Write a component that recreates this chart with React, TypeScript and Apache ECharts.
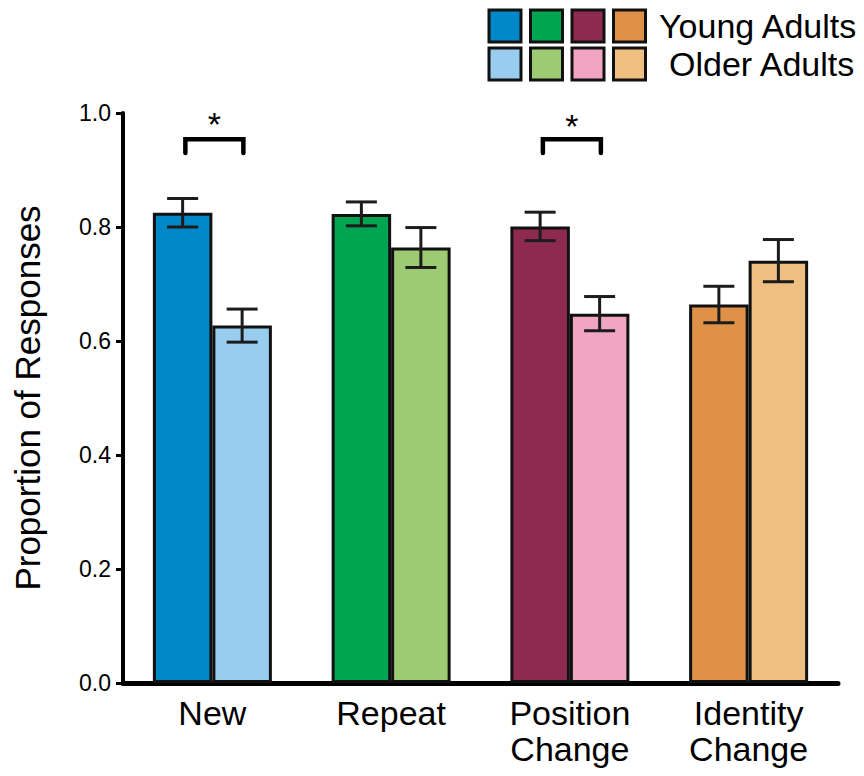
import React, { useEffect, useRef } from 'react';
import * as echarts from 'echarts';

const categories = ['New', 'Repeat', 'Position\nChange', 'Identity\nChange'];
const youngValues = [0.825, 0.823, 0.801, 0.664];
const youngErrors = [0.025, 0.021, 0.025, 0.032];
const olderValues = [0.627, 0.764, 0.648, 0.741];
const olderErrors = [0.029, 0.035, 0.030, 0.037];
const youngColors = ['#0087c8', '#00a551', '#8e2a4f', '#df9148'];
const olderColors = ['#98cdef', '#9dcb73', '#f0a5c3', '#efbf81'];
const groupLabels = ['Young Adults', 'Older Adults'];
const yTicks = [0, 0.2, 0.4, 0.6, 0.8, 1.0];
const sigCategories = [0, 2];
const sigBracketTop = [0.954, 0.954];
const sigBracketEnd = [0.93, 0.93];
const sigStar = [0.981, 0.977];

const FONT = "'Liberation Sans', Arial, Helvetica, sans-serif";
const BAR_W = 59.5;

function errorSeries(values: number[], errors: number[], side: number) {
  return {
    type: 'custom',
    silent: true,
    z: 10,
    data: values.map((v, i) => [i, v, errors[i]]),
    renderItem: (params: any, api: any) => {
      const i = api.value(0);
      const v = api.value(1);
      const e = api.value(2);
      const hi = api.coord([i, v + e]);
      const lo = api.coord([i, v - e]);
      const x = hi[0] + (side * BAR_W) / 2;
      const cap = 15.5;
      const style = { stroke: '#1c1c1c', lineWidth: 3 };
      return {
        type: 'group',
        children: [
          { type: 'line', shape: { x1: x, y1: hi[1], x2: x, y2: lo[1] }, style },
          { type: 'line', shape: { x1: x - cap, y1: hi[1], x2: x + cap, y2: hi[1] }, style },
          { type: 'line', shape: { x1: x - cap, y1: lo[1], x2: x + cap, y2: lo[1] }, style },
        ],
      };
    },
  };
}

export default function App() {
  const ref = useRef<HTMLDivElement>(null);
  useEffect(() => {
    document.body.style.margin = '0';
    const chart = echarts.init(ref.current!, null, { renderer: 'svg' });

    const legendChildren: any[] = [];
    const sqX0 = 489;
    const sqStep = 41.5;
    const rowY = [10, 48];
    [youngColors, olderColors].forEach((cols, r) => {
      cols.forEach((c, k) => {
        legendChildren.push({
          type: 'rect',
          shape: { x: sqX0 + k * sqStep, y: rowY[r], width: 32, height: 32 },
          style: { fill: c, stroke: '#111', lineWidth: 3 },
        });
      });
    });
    legendChildren.push({
      type: 'text',
      x: 659,
      y: 26,
      style: { text: groupLabels[0], font: `34px ${FONT}`, fill: '#000', textVerticalAlign: 'middle' },
    });
    legendChildren.push({
      type: 'text',
      x: 669,
      y: 64,
      style: { text: groupLabels[1], font: `34px ${FONT}`, fill: '#000', textVerticalAlign: 'middle' },
    });

    chart.setOption({
      animation: false,
      textStyle: { fontFamily: FONT },
      grid: { left: 123, right: 26, top: 113, bottom: 93, containLabel: false, outerBoundsMode: 'none' },
      xAxis: {
        type: 'category',
        data: categories,
        axisLine: { lineStyle: { color: '#000', width: 5 } },
        axisTick: { alignWithLabel: true, length: 8, lineStyle: { color: '#000', width: 3 } },
        axisLabel: { color: '#000', fontSize: 34, lineHeight: 36, margin: 12, fontFamily: FONT },
      },
      yAxis: {
        type: 'value',
        min: 0,
        max: 1,
        interval: 0.2,
        name: 'Proportion of Responses',
        nameLocation: 'middle',
        nameRotate: 90,
        nameGap: 78,
        nameTextStyle: { color: '#000', fontSize: 35, fontFamily: FONT },
        axisLine: { show: true, lineStyle: { color: '#000', width: 4 } },
        axisTick: { show: true, length: 7, lineStyle: { color: '#000', width: 3 } },
        axisLabel: {
          color: '#000',
          fontSize: 23,
          margin: 12,
          fontFamily: FONT,
          formatter: (v: number) => (yTicks.some((t) => Math.abs(t - v) < 1e-9) ? v.toFixed(1) : ''),
        },
        splitLine: { show: false },
      },
      series: [
        {
          type: 'bar',
          name: groupLabels[0],
          barWidth: BAR_W,
          barGap: '0%',
          data: youngValues.map((v, i) => ({
            value: v,
            itemStyle: { color: youngColors[i], borderColor: '#111', borderWidth: 3 },
          })),
        },
        {
          type: 'bar',
          name: groupLabels[1],
          barWidth: BAR_W,
          barGap: '0%',
          data: olderValues.map((v, i) => ({
            value: v,
            itemStyle: { color: olderColors[i], borderColor: '#111', borderWidth: 3 },
          })),
        },
        errorSeries(youngValues, youngErrors, -1),
        errorSeries(olderValues, olderErrors, 1),
        {
          type: 'custom',
          silent: true,
          z: 10,
          data: sigCategories.map((c, k) => [c, sigBracketTop[k], sigBracketEnd[k], sigStar[k]]),
          renderItem: (params: any, api: any) => {
            const i = api.value(0);
            const top = api.coord([i, api.value(1)]);
            const end = api.coord([i, api.value(2)]);
            const star = api.coord([i, api.value(3)]);
            const cx = top[0] + 2;
            const hw = 29;
            return {
              type: 'group',
              children: [
                {
                  type: 'polyline',
                  shape: {
                    points: [
                      [cx - hw, end[1]],
                      [cx - hw, top[1]],
                      [cx + hw, top[1]],
                      [cx + hw, end[1]],
                    ],
                  },
                  style: { stroke: '#000', lineWidth: 4.5, fill: 'none', lineCap: 'round', lineJoin: 'miter' },
                },
                {
                  type: 'text',
                  x: cx,
                  y: star[1],
                  style: {
                    text: '*',
                    font: `34px ${FONT}`,
                    fill: '#000',
                    textAlign: 'center',
                    textVerticalAlign: 'middle',
                  },
                },
              ],
            };
          },
        },
      ],
      graphic: legendChildren,
    });
    return () => chart.dispose();
  }, []);
  return <div ref={ref} style={{ position: 'absolute', left: 0, top: 0, width: 864, height: 776 }} />;
}
